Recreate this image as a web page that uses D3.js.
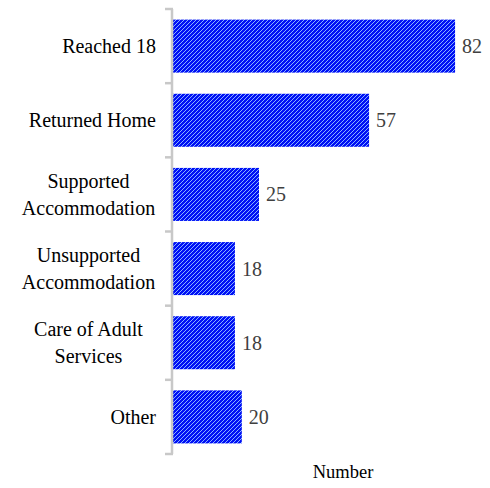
<!DOCTYPE html>
<html>
<head>
<meta charset="utf-8">
<script src="https://cdn.jsdelivr.net/npm/d3@7"></script>
<style>
  html, body { margin: 0; padding: 0; background: #fff; }
</style>
</head>
<body>
<svg id="chart" width="490" height="488"></svg>
<script>
// Care leavers by reason for leaving
const categories = [
  ["Reached 18"],
  ["Returned Home"],
  ["Supported", "Accommodation"],
  ["Unsupported", "Accommodation"],
  ["Care of Adult", "Services"],
  ["Other"]
];
const values = [82, 57, 25, 18, 18, 20];
const axisTitle = "Number";

const FONT = "Liberation Serif, Tinos, Times New Roman, Times, DejaVu Serif, serif";
const svg = d3.select("#chart");
const plotLeft = 172, plotTop = 9, plotBottom = 454;

const y = d3.scaleBand()
  .domain(d3.range(categories.length))
  .range([plotTop, plotBottom])
  .paddingInner(0.285)
  .paddingOuter(0.143);

const x = d3.scaleLinear().domain([0, 90]).range([plotLeft + 1, plotLeft + 1 + 90 * 3.44]);

// diagonal hatch fill
const defs = svg.append("defs");
const pat = defs.append("pattern")
  .attr("id", "hatch")
  .attr("patternUnits", "userSpaceOnUse")
  .attr("width", 4).attr("height", 4);
pat.append("rect").attr("width", 4).attr("height", 4).attr("fill", "#0010f5");
pat.append("path")
  .attr("d", "M-1,1 L1,-1 M0,4 L4,0 M3,5 L5,3")
  .attr("stroke", "#88b0ff")
  .attr("stroke-width", 1.1)
  .attr("shape-rendering", "crispEdges");

// bars
svg.append("g").selectAll("rect")
  .data(values)
  .join("rect")
  .attr("x", x(0))
  .attr("y", (d, i) => y(i))
  .attr("width", d => x(d) - x(0))
  .attr("height", y.bandwidth())
  .attr("fill", "url(#hatch)");

// value labels
svg.append("g").selectAll("text")
  .data(values)
  .join("text")
  .attr("x", d => x(d) + 7)
  .attr("y", (d, i) => y(i) + y.bandwidth() / 2)
  .attr("dy", "0.35em")
  .style("font-family", FONT)
  .attr("font-size", 20)
  .attr("fill", "#404040")
  .text(d => d);

// category axis with band-boundary ticks
const axisColor = "#c8c8c8";
const ag = svg.append("g");
ag.append("line")
  .attr("x1", plotLeft).attr("x2", plotLeft)
  .attr("y1", plotTop).attr("y2", plotBottom)
  .attr("stroke", axisColor).attr("stroke-width", 2.5);
const bounds = d3.range(categories.length + 1).map(i => plotTop + i * (plotBottom - plotTop) / categories.length);
ag.selectAll("line.tick")
  .data(bounds)
  .join("line")
  .attr("class", "tick")
  .attr("x1", plotLeft - 7).attr("x2", plotLeft + 1)
  .attr("y1", d => d).attr("y2", d => d)
  .attr("stroke", axisColor).attr("stroke-width", 2.5);

// category labels: single lines hug the axis, wrapped ones are centred in the label column
const lg = svg.append("g");
const labelRight = 156, labelCentre = 88.5, lh = 27;
categories.forEach((lines, i) => {
  const cy = y(i) + y.bandwidth() / 2;
  const single = lines.length === 1;
  const t = lg.append("text")
    .attr("text-anchor", single ? "end" : "middle")
    .style("font-family", FONT)
    .attr("font-size", 20)
    .attr("fill", "#000");
  lines.forEach((ln, j) => {
    t.append("tspan")
      .attr("x", single ? labelRight : labelCentre)
      .attr("y", cy + (j - (lines.length - 1) / 2) * lh)
      .attr("dy", "0.35em")
      .text(ln);
  });
});

// axis title
svg.append("text")
  .attr("x", 343)
  .attr("y", 478)
  .attr("text-anchor", "middle")
  .style("font-family", FONT)
  .attr("font-size", 18.5)
  .attr("fill", "#000")
  .text(axisTitle);
</script>
</body>
</html>
